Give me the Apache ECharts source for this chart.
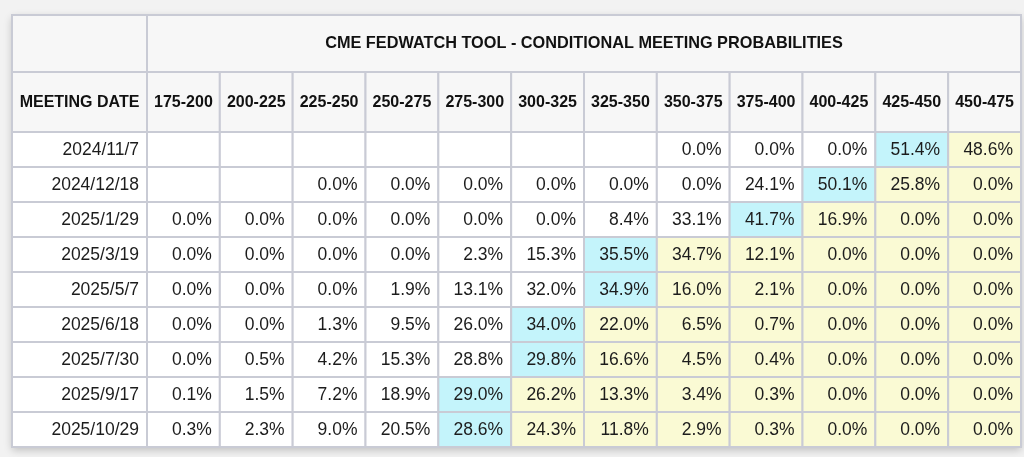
<!DOCTYPE html>
<html>
<head>
<meta charset="utf-8">
<script src="https://cdn.jsdelivr.net/npm/echarts@6/dist/echarts.min.js"></script>
<style>
  html, body { margin: 0; padding: 0; background: #f2f2f2; }
  #chart { width: 1024px; height: 457px; }
</style>
</head>
<body>
<div id="chart"></div>
<script>
const titleText = 'CME FEDWATCH TOOL - CONDITIONAL MEETING PROBABILITIES';
const dateHeader = 'MEETING DATE';
const ranges = ['175-200','200-225','225-250','250-275','275-300','300-325','325-350','350-375','375-400','400-425','425-450','450-475'];
const meetings = ['2024/11/7','2024/12/18','2025/1/29','2025/3/19','2025/5/7','2025/6/18','2025/7/30','2025/9/17','2025/10/29'];

const p_2024_11_7  = [null, null, null, null, null, null, null, 0.0, 0.0, 0.0, 51.4, 48.6];
const p_2024_12_18 = [null, null, 0.0, 0.0, 0.0, 0.0, 0.0, 0.0, 24.1, 50.1, 25.8, 0.0];
const p_2025_1_29  = [0.0, 0.0, 0.0, 0.0, 0.0, 0.0, 8.4, 33.1, 41.7, 16.9, 0.0, 0.0];
const p_2025_3_19  = [0.0, 0.0, 0.0, 0.0, 2.3, 15.3, 35.5, 34.7, 12.1, 0.0, 0.0, 0.0];
const p_2025_5_7   = [0.0, 0.0, 0.0, 1.9, 13.1, 32.0, 34.9, 16.0, 2.1, 0.0, 0.0, 0.0];
const p_2025_6_18  = [0.0, 0.0, 1.3, 9.5, 26.0, 34.0, 22.0, 6.5, 0.7, 0.0, 0.0, 0.0];
const p_2025_7_30  = [0.0, 0.5, 4.2, 15.3, 28.8, 29.8, 16.6, 4.5, 0.4, 0.0, 0.0, 0.0];
const p_2025_9_17  = [0.1, 1.5, 7.2, 18.9, 29.0, 26.2, 13.3, 3.4, 0.3, 0.0, 0.0, 0.0];
const p_2025_10_29 = [0.3, 2.3, 9.0, 20.5, 28.6, 24.3, 11.8, 2.9, 0.3, 0.0, 0.0, 0.0];
const rows = [p_2024_11_7, p_2024_12_18, p_2025_1_29, p_2025_3_19, p_2025_5_7, p_2025_6_18, p_2025_7_30, p_2025_9_17, p_2025_10_29];

const BORDER = '#c9cbd5';
const HEAD_BG = '#f7f7f7';
const CYAN = '#c4f4fb';
const YELLOW = '#fafad4';
const FONT = '"Liberation Sans", Arial, sans-serif';
const TXT = '#1c1c1c';

// build cell data: [col, row, label, kind]  kind: 0 white, 1 cyan (row max), 2 yellow (right of max)
const cells = [];
rows.forEach((r, ri) => {
  let maxI = 0;
  r.forEach((v, i) => { if (v !== null && (r[maxI] === null || v > r[maxI])) maxI = i; });
  r.forEach((v, ci) => {
    const kind = ci === maxI ? 1 : (ci > maxI ? 2 : 0);
    cells.push([ci, ri, v === null ? '' : v.toFixed(1) + '%', kind]);
  });
});
const dateCells = meetings.map((m, i) => [0, i, m]);
const headCells = ranges.map((r, i) => [i, 0, r]);

function cellRect(api, fill) {
  const c = api.coord([api.value(0), api.value(1)]);
  const s = api.size([1, 1]);
  return { c, s, rect: { type: 'rect', shape: { x: c[0] - s[0] / 2, y: c[1] - s[1] / 2, width: s[0], height: s[1] },
    style: { fill, stroke: BORDER, lineWidth: 2 } } };
}

const hiddenCat = (data, gi, inverse) => ({ type: 'category', data, gridIndex: gi, inverse: !!inverse, show: false, boundaryGap: true });

const chart = echarts.init(document.getElementById('chart'), null, { renderer: 'canvas' });
chart.setOption({
  backgroundColor: '#f2f2f2',
  animation: false,
  grid: [
    { left: 147, right: 3, top: 132, height: 315 },   // data
    { left: 12, width: 135, top: 132, height: 315 },  // dates
    { left: 147, right: 3, top: 72, height: 60 },     // range header
    { left: 12, width: 135, top: 72, height: 60 }     // date header
  ],
  xAxis: [
    hiddenCat(ranges, 0), hiddenCat([dateHeader], 1), hiddenCat(ranges, 2), hiddenCat([dateHeader], 3)
  ],
  yAxis: [
    hiddenCat(meetings, 0, true), hiddenCat(meetings, 1, true), hiddenCat(['h'], 2), hiddenCat(['h'], 3)
  ],
  graphic: [
    { type: 'rect', z: 0, shape: { x: 12, y: 15, width: 1009, height: 432 },
      style: { fill: '#ffffff', shadowBlur: 8, shadowOffsetY: 3, shadowColor: 'rgba(0,0,0,0.22)' } },
    { type: 'rect', z: 1, shape: { x: 12, y: 15, width: 135, height: 57 }, style: { fill: HEAD_BG, stroke: BORDER, lineWidth: 2 } },
    { type: 'rect', z: 1, shape: { x: 147, y: 15, width: 874, height: 57 }, style: { fill: HEAD_BG, stroke: BORDER, lineWidth: 2 } },
    { type: 'text', z: 3, style: { text: titleText, x: 584, y: 44, align: 'center', verticalAlign: 'middle',
      font: 'bold 16.3px ' + FONT, fill: '#111' } }
  ],
  series: [
    {
      type: 'custom', xAxisIndex: 0, yAxisIndex: 0, data: cells, z: 2,
      renderItem(params, api) {
        const kind = api.value(3);
        const fill = kind === 1 ? CYAN : kind === 2 ? YELLOW : '#ffffff';
        const { c, s, rect } = cellRect(api, fill);
        return { type: 'group', children: [rect,
          { type: 'text', style: { text: cells[params.dataIndex][2], x: c[0] + s[0] / 2 - 8, y: c[1] + 1,
            align: 'right', verticalAlign: 'middle', font: '17.5px ' + FONT, fill: TXT } }] };
      }
    },
    {
      type: 'custom', xAxisIndex: 1, yAxisIndex: 1, data: dateCells, z: 2,
      renderItem(params, api) {
        const { c, s, rect } = cellRect(api, '#ffffff');
        return { type: 'group', children: [rect,
          { type: 'text', style: { text: dateCells[params.dataIndex][2], x: c[0] + s[0] / 2 - 8, y: c[1] + 1,
            align: 'right', verticalAlign: 'middle', font: '17.5px ' + FONT, fill: TXT } }] };
      }
    },
    {
      type: 'custom', xAxisIndex: 2, yAxisIndex: 2, data: headCells, z: 2,
      renderItem(params, api) {
        const { c, rect } = cellRect(api, HEAD_BG);
        return { type: 'group', children: [rect,
          { type: 'text', style: { text: headCells[params.dataIndex][2], x: c[0], y: c[1] + 1,
            align: 'center', verticalAlign: 'middle', font: 'bold 16px ' + FONT, fill: '#111' } }] };
      }
    },
    {
      type: 'custom', xAxisIndex: 3, yAxisIndex: 3, data: [[0, 0, dateHeader]], z: 2,
      renderItem(params, api) {
        const { c, rect } = cellRect(api, HEAD_BG);
        return { type: 'group', children: [rect,
          { type: 'text', style: { text: dateHeader, x: c[0], y: c[1] + 1,
            align: 'center', verticalAlign: 'middle', font: 'bold 16px ' + FONT, fill: '#111' } }] };
      }
    }
  ]
});
</script>
</body>
</html>
